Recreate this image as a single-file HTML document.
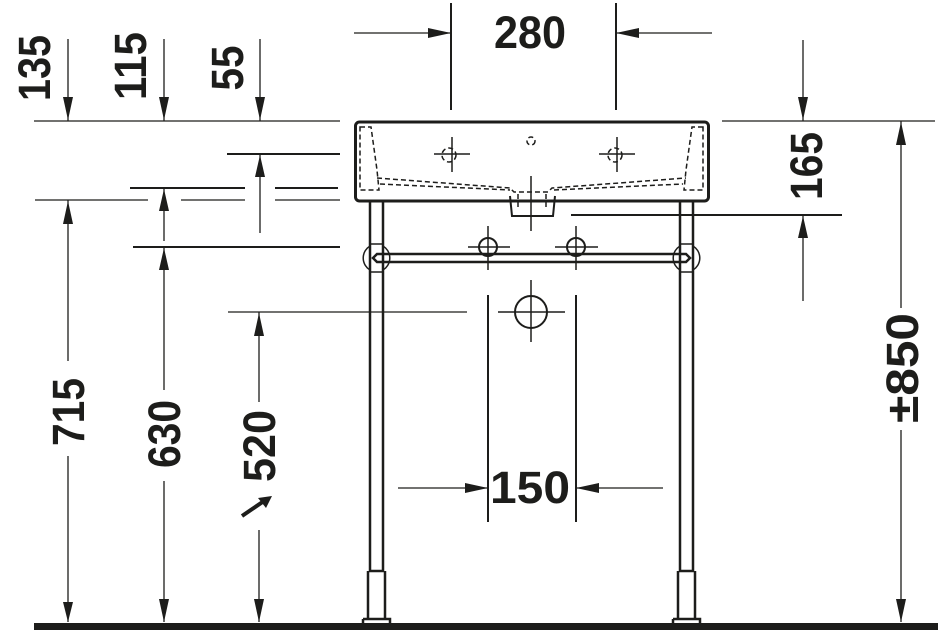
<!DOCTYPE html>
<html><head><meta charset="utf-8"><style>
html,body{margin:0;padding:0;background:#fff;}
svg{display:block;}
text{font-family:"Liberation Sans",sans-serif;font-weight:bold;fill:#1d1d1b;font-size:45px;}
</style></head><body>
<svg width="938" height="633" viewBox="0 0 938 633" xmlns="http://www.w3.org/2000/svg">
<g stroke="#1d1d1b" fill="none" stroke-width="1.3">
<line x1="34" y1="121" x2="340" y2="121"/>
<line x1="722" y1="121" x2="935" y2="121"/>
<line x1="227" y1="154" x2="340" y2="154" stroke-width="2"/>
<line x1="130" y1="188" x2="245" y2="188" stroke-width="2"/>
<line x1="275" y1="188" x2="338" y2="188" stroke-width="2"/>
<line x1="35" y1="200" x2="148" y2="200"/>
<line x1="181" y1="200" x2="245" y2="200"/>
<line x1="275" y1="200" x2="340" y2="200"/>
<line x1="133" y1="247" x2="340" y2="247" stroke-width="2"/>
<line x1="228" y1="312" x2="467" y2="312"/>
<line x1="571" y1="215" x2="842" y2="215" stroke-width="2"/>
<line x1="451" y1="3" x2="451" y2="110" stroke-width="2"/>
<line x1="616" y1="3" x2="616" y2="110" stroke-width="2"/>
<line x1="354" y1="33" x2="451" y2="33"/>
<line x1="616" y1="33" x2="712" y2="33"/>
<line x1="488" y1="295" x2="488" y2="522" stroke-width="2"/>
<line x1="576" y1="295" x2="576" y2="522" stroke-width="2"/>
<line x1="398" y1="488" x2="488" y2="488"/>
<line x1="576" y1="488" x2="663" y2="488"/>
<line x1="68" y1="39" x2="68" y2="121"/>
<line x1="68" y1="200" x2="68" y2="361"/>
<line x1="68" y1="456" x2="68" y2="622"/>
<line x1="164" y1="39" x2="164" y2="121"/>
<line x1="164" y1="188" x2="164" y2="241"/>
<line x1="164" y1="247" x2="164" y2="390"/>
<line x1="164" y1="481" x2="164" y2="622"/>
<line x1="260" y1="39" x2="260" y2="121"/>
<line x1="260" y1="154" x2="260" y2="233"/>
<line x1="259" y1="312" x2="259" y2="402"/>
<line x1="259" y1="530" x2="259" y2="622"/>
<line x1="803" y1="40" x2="803" y2="121"/>
<line x1="803" y1="215" x2="803" y2="301"/>
<line x1="901" y1="121" x2="901" y2="308"/>
<line x1="901" y1="430" x2="901" y2="622"/>
</g>
<g fill="#1d1d1b">
<polygon points="63,97 73,97 68,120"/>
<polygon points="159,97 169,97 164,120"/>
<polygon points="255,97 265,97 260,120"/>
<polygon points="798,97 808,97 803,120"/>
<polygon points="63,224 73,224 68,201"/>
<polygon points="159,211 169,211 164,189"/>
<polygon points="159,270 169,270 164,248"/>
<polygon points="255,177 265,177 260,155"/>
<polygon points="254,336 264,336 259,313"/>
<polygon points="798,238 808,238 803,216"/>
<polygon points="896,145 906,145 901,122"/>
<polygon points="63,602 73,602 68,622"/>
<polygon points="159,599 169,599 164,622"/>
<polygon points="254,599 264,599 259,622"/>
<polygon points="896,599 906,599 901,622"/>
<polygon points="428,28 428,38 451,33"/>
<polygon points="639,28 639,38 616,33"/>
<polygon points="465,483 465,493 488,488"/>
<polygon points="599,483 599,493 576,488"/>
<polygon points="272,496 258,498 266,508"/>
<rect x="34" y="623" width="904" height="7"/>
</g>
<line x1="242" y1="516" x2="264" y2="501" stroke="#1d1d1b" stroke-width="4"/>
<g stroke="#1d1d1b" fill="none">
<rect x="355.5" y="122" width="353" height="79" rx="4" stroke-width="3"/>
<g stroke-dasharray="5,3" stroke-width="1.5">
<path d="M360,127 L371,127 L377,170 L379,190 L368,190 L360,190 Z"/>
<path d="M703,127 L692,127 L686,170 L684,190 L695,190 L703,190 Z"/>
<path d="M377,178 L510,188 L514,192 L548,192 L552,188 L686,178"/>
<path d="M380,184 L510,190"/>
<path d="M554,190 L683,184"/>
<path d="M518,194 L518,210 M546,194 L546,210"/>
<circle cx="449" cy="155" r="7"/>
<circle cx="615" cy="155" r="7"/>
<circle cx="531" cy="141" r="4"/>
</g>
<path d="M510,196 L512,216 L553,216 L555,196" stroke-width="2"/>
<g stroke-width="1.5">
<line x1="434" y1="154" x2="470" y2="154"/><line x1="452" y1="137" x2="452" y2="172"/>
<line x1="599" y1="154" x2="635" y2="154"/><line x1="617" y1="137" x2="617" y2="172"/>
<line x1="531" y1="176" x2="531" y2="231"/>
<line x1="468" y1="247" x2="510" y2="247"/><line x1="488" y1="226" x2="488" y2="270"/>
<line x1="555" y1="247" x2="598" y2="247"/><line x1="576" y1="226" x2="576" y2="270"/>
<line x1="498" y1="312" x2="565" y2="312"/><line x1="531" y1="280" x2="531" y2="342"/>
</g>
<circle cx="488" cy="247" r="9" stroke-width="2"/>
<circle cx="576" cy="247" r="9" stroke-width="2"/>
<circle cx="531" cy="312" r="16" stroke-width="2"/>
<g stroke-width="2.5">
<path d="M370,201 V571 M383,201 V571"/>
<path d="M369,571 H384 M368,571 V619 M385,571 V619"/>
<path d="M363,619 H390 V623 M363,619 V623"/>
<path d="M680,201 V571 M693,201 V571"/>
<path d="M679,571 H694 M678,571 V619 M695,571 V619"/>
<path d="M673,619 H700 V623 M673,619 V623"/>
<path d="M377,254 H686 L690,258 L686,262 H377 L373,258 Z"/>
<path d="M370,244 H383 M680,244 H693 M370,272 H383 M680,272 H693" stroke-width="1.5"/>
</g>
<path d="M370,246 A14,14 0 0,0 370,270" stroke-width="1.5"/>
<path d="M383,246 A14,14 0 0,1 383,270" stroke-width="1.5"/>
<path d="M680,246 A14,14 0 0,0 680,270" stroke-width="1.5"/>
<path d="M693,246 A14,14 0 0,1 693,270" stroke-width="1.5"/>
</g>
<text x="530" y="48" text-anchor="middle" textLength="72" lengthAdjust="spacingAndGlyphs">280</text>
<text x="530" y="503" text-anchor="middle" textLength="80" lengthAdjust="spacingAndGlyphs">150</text>
<text transform="translate(50,68) rotate(-90)" text-anchor="middle" textLength="66" lengthAdjust="spacingAndGlyphs">135</text>
<text transform="translate(146,66) rotate(-90)" text-anchor="middle" textLength="68" lengthAdjust="spacingAndGlyphs">115</text>
<text transform="translate(243,68) rotate(-90)" text-anchor="middle" textLength="45" lengthAdjust="spacingAndGlyphs">55</text>
<text transform="translate(84,412) rotate(-90)" text-anchor="middle" textLength="68" lengthAdjust="spacingAndGlyphs">715</text>
<text transform="translate(180,434) rotate(-90)" text-anchor="middle" textLength="68" lengthAdjust="spacingAndGlyphs">630</text>
<text transform="translate(275,446) rotate(-90)" text-anchor="middle" textLength="72" lengthAdjust="spacingAndGlyphs">520</text>
<text transform="translate(822,166) rotate(-90)" text-anchor="middle" textLength="68" lengthAdjust="spacingAndGlyphs">165</text>
<text transform="translate(918,368) rotate(-90)" text-anchor="middle" textLength="110" lengthAdjust="spacingAndGlyphs">±850</text>
</svg>
</body></html>
